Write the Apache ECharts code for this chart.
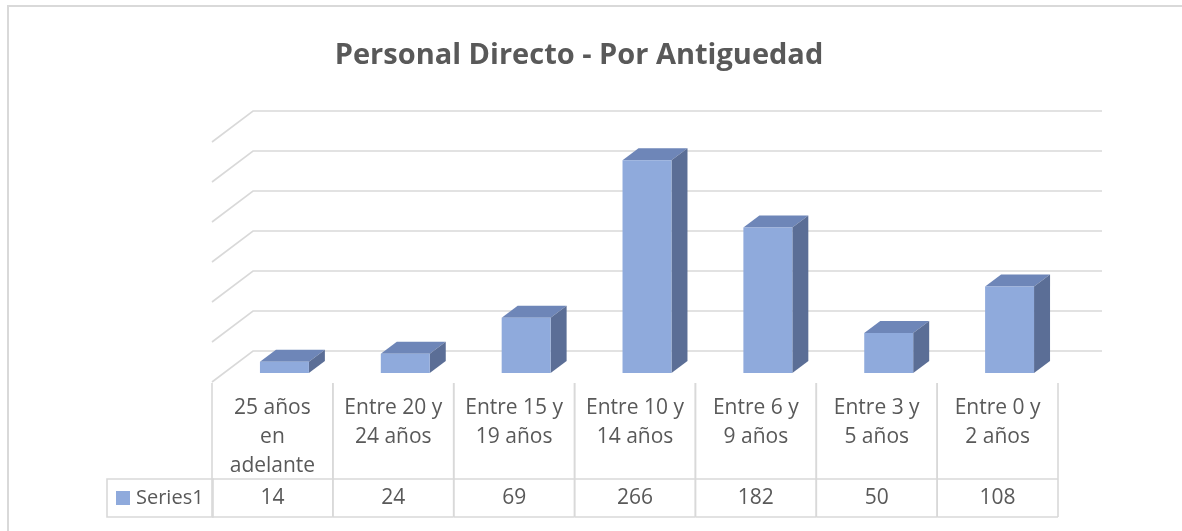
<!DOCTYPE html>
<html>
<head>
<meta charset="utf-8">
<script src="https://cdn.jsdelivr.net/npm/echarts@6/dist/echarts.min.js"></script>
<style>
  html, body { margin: 0; padding: 0; background: #fff; }
  #chart { width: 1182px; height: 531px; }
</style>
</head>
<body>
<div id="chart"></div>
<script>
// data
var chartTitle = 'Personal Directo - Por Antiguedad';
var seriesName = 'Series1';
var categories = ['25 años\nen\nadelante', 'Entre 20 y\n24 años', 'Entre 15 y\n19 años', 'Entre 10 y\n14 años', 'Entre 6 y\n9 años', 'Entre 3 y\n5 años', 'Entre 0 y\n2 años'];
var values = [14, 24, 69, 266, 182, 50, 108];
var yTicks = [0, 50, 100, 150, 200, 250, 300];

// look
var TXT = '#595959';
var LINE = '#d9d9d9';
var C_FRONT = '#8faadc';
var C_TOP = '#6e86b8';
var C_SIDE = '#5b6e96';
var WALL = [41, -31];     // back wall offset from front edge of floor
var BAR_OFF = [12, -9];   // bar front face offset
var BAR_DEPTH = [16, -12];

var myChart = echarts.init(document.getElementById('chart'));

function renderGrid(params, api) {
  var cs = params.coordSys;
  var y = api.coord([0, api.value(1)])[1];
  return {
    type: 'polyline',
    shape: { points: [[cs.x, y], [cs.x + WALL[0], y + WALL[1]], [cs.x + cs.width + 44, y + WALL[1]]] },
    style: { stroke: LINE, lineWidth: 1.6, fill: null }
  };
}

function renderBar(params, api) {
  var base = api.coord([api.value(0), 0]);
  var top = api.coord([api.value(0), api.value(1)]);
  var w = api.size([1, 0])[0] * 0.405;
  var x0 = base[0] + BAR_OFF[0] - w / 2, x1 = x0 + w;
  var yb = base[1] + BAR_OFF[1], yt = top[1] + BAR_OFF[1];
  var dx = BAR_DEPTH[0], dy = BAR_DEPTH[1];
  return {
    type: 'group',
    children: [
      { type: 'polygon', shape: { points: [[x0, yt], [x1, yt], [x1 + dx, yt + dy], [x0 + dx, yt + dy]] }, style: { fill: C_TOP } },
      { type: 'polygon', shape: { points: [[x1, yt], [x1 + dx, yt + dy], [x1 + dx, yb + dy], [x1, yb]] }, style: { fill: C_SIDE } },
      { type: 'rect', shape: { x: x0, y: yt, width: w, height: yb - yt }, style: { fill: C_FRONT } }
    ]
  };
}

function renderTable(params, api) {
  var cs = params.coordSys;
  var cx = api.coord([api.value(0), 0])[0];
  var cw = api.size([1, 0])[0];
  var xl = cx - cw / 2, xr = cx + cw / 2;
  var t = cs.y + cs.height + 1, mid = t + 96, b = t + 134;
  var ls = { stroke: LINE, lineWidth: 1.6 };
  return {
    type: 'group',
    children: [
      { type: 'line', shape: { x1: xl, y1: t, x2: xl, y2: b }, style: ls },
      { type: 'line', shape: { x1: xr, y1: t, x2: xr, y2: b }, style: ls },
      { type: 'line', shape: { x1: xl, y1: mid, x2: xr, y2: mid }, style: ls },
      { type: 'line', shape: { x1: xl, y1: b, x2: xr, y2: b }, style: ls },
      { type: 'text', style: { text: categories[params.dataIndex], x: cx, y: t + 11, align: 'center', verticalAlign: 'top', fill: TXT, font: '21px "Open Sans"', lineHeight: 29 } },
      { type: 'text', style: { text: String(api.value(1)), x: cx, y: (mid + b) / 2, align: 'center', verticalAlign: 'middle', fill: TXT, font: '21px "Open Sans"' } }
    ]
  };
}

myChart.setOption({
  animation: false,
  title: {
    text: chartTitle,
    left: 574,
    textAlign: 'center',
    top: 36,
    textStyle: { color: TXT, fontFamily: 'Open Sans', fontWeight: 'bold', fontSize: 29 }
  },
  grid: { left: 212, right: 124, top: 142, bottom: 149 },
  xAxis: {
    type: 'category',
    data: categories,
    axisLine: { show: false },
    axisTick: { show: false },
    axisLabel: { show: false }
  },
  yAxis: {
    type: 'value',
    min: 0,
    max: 300,
    interval: 50,
    axisLine: { show: false },
    axisTick: { show: false },
    axisLabel: { show: false },
    splitLine: { show: false }
  },
  graphic: [
    { type: 'rect', shape: { x: 8, y: 6, width: 1300, height: 700 }, style: { fill: null, stroke: LINE, lineWidth: 2 }, silent: true },
    { type: 'rect', shape: { x: 107, y: 479, width: 106, height: 38 }, style: { fill: null, stroke: LINE, lineWidth: 1.6 }, silent: true },
    { type: 'rect', shape: { x: 116, y: 491, width: 14, height: 14 }, style: { fill: C_FRONT }, silent: true },
    { type: 'text', style: { text: seriesName, x: 136, y: 498, verticalAlign: 'middle', fill: TXT, font: '20px "Open Sans"' }, silent: true }
  ],
  series: [
    {
      name: 'grid',
      type: 'custom',
      renderItem: renderGrid,
      data: yTicks.map(function (v) { return [0, v]; }),
      z: 1,
      silent: true
    },
    {
      name: seriesName,
      type: 'custom',
      renderItem: renderBar,
      data: values.map(function (v, i) { return [i, v]; }),
      z: 3
    },
    {
      name: 'table',
      type: 'custom',
      renderItem: renderTable,
      data: values.map(function (v, i) { return [i, v]; }),
      z: 2,
      silent: true
    }
  ]
});
</script>
</body>
</html>
